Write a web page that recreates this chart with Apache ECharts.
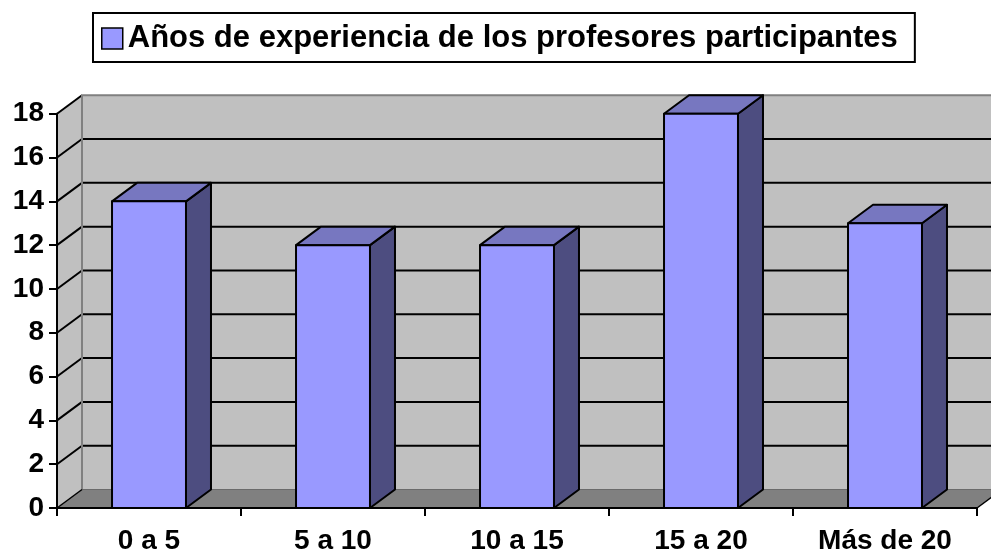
<!DOCTYPE html>
<html>
<head>
<meta charset="utf-8">
<script src="https://cdn.jsdelivr.net/npm/echarts@6/dist/echarts.min.js"></script>
<style>
  html, body { margin: 0; padding: 0; background: #ffffff; }
  #chart { width: 991px; height: 555px; }
</style>
</head>
<body>
<div id="chart"></div>
<script>
// Years of teaching experience of the participating teachers
var categories = ['0 a 5', '5 a 10', '10 a 15', '15 a 20', 'Más de 20'];
var teacherCounts = [14, 12, 12, 18, 13];
var yTicks = [0, 2, 4, 6, 8, 10, 12, 14, 16, 18];
var seriesName = 'Años de experiencia de los profesores participantes';

// depth offset of the 3D box (back plane relative to front plane)
var DX = 25, DY = -18.5;
var FONT = "'Liberation Sans', Arial, sans-serif";

var chart = echarts.init(document.getElementById('chart'), null, { renderer: 'canvas' });

// walls, floor and gridlines behind the bars
function renderWalls(params, api) {
  var cs = params.coordSys;
  var x0 = cs.x, x1 = cs.x + cs.width;
  var yBot = api.coord([0, yTicks[0]])[1];
  var yTop = api.coord([0, yTicks[yTicks.length - 1]])[1];
  var children = [];
  // back wall
  children.push({
    type: 'polygon',
    shape: { points: [[x0 + DX, yTop + DY], [x1 + DX + 40, yTop + DY], [x1 + DX + 40, yBot + DY], [x0 + DX, yBot + DY]] },
    style: { fill: '#C0C0C0' }
  });
  // side wall
  children.push({
    type: 'polygon',
    shape: { points: [[x0, yBot], [x0, yTop], [x0 + DX, yTop + DY], [x0 + DX, yBot + DY]] },
    style: { fill: '#C0C0C0' }
  });
  // floor
  children.push({
    type: 'polygon',
    shape: { points: [[x0, yBot], [x1, yBot], [x1 + DX, yBot + DY], [x0 + DX, yBot + DY]] },
    style: { fill: '#808080' }
  });
  // gridlines on back and side walls
  yTicks.forEach(function (v) {
    var y = api.coord([0, v])[1];
    if (v > yTicks[0] && v < yTicks[yTicks.length - 1]) {
      children.push({
        type: 'line',
        shape: { x1: x0 + DX, y1: y + DY, x2: x1 + DX + 40, y2: y + DY },
        style: { stroke: '#000', lineWidth: 2 }
      });
    }
    if (v > yTicks[0]) {
      children.push({
        type: 'line',
        shape: { x1: x0, y1: y, x2: x0 + DX, y2: y + DY },
        style: { stroke: '#000', lineWidth: 2 }
      });
    }
  });
  // back wall edges
  children.push({
    type: 'polyline',
    shape: { points: [[x0 + DX, yBot + DY], [x0 + DX, yTop + DY], [x1 + DX + 40, yTop + DY]] },
    style: { stroke: '#808080', lineWidth: 2, fill: null }
  });
  children.push({
    type: 'line',
    shape: { x1: x0 + DX, y1: yBot + DY, x2: x1 + DX + 40, y2: yBot + DY },
    style: { stroke: '#6a6a6a', lineWidth: 1 }
  });
  // floor side edges
  children.push({
    type: 'line',
    shape: { x1: x0, y1: yBot, x2: x0 + DX, y2: yBot + DY },
    style: { stroke: '#000', lineWidth: 1.5 }
  });
  children.push({
    type: 'line',
    shape: { x1: x1, y1: yBot, x2: x1 + DX, y2: yBot + DY },
    style: { stroke: '#000', lineWidth: 1.5 }
  });
  return { type: 'group', children: children };
}

// one 3D box per category
function renderBar(params, api) {
  var idx = api.value(0);
  var val = api.value(1);
  var pBase = api.coord([idx, 0]);
  var pTop = api.coord([idx, val]);
  var hw = api.size([1, 0])[0] * 0.402 / 2;
  var xL = pBase[0] - hw, xR = pBase[0] + hw;
  var yT = pTop[1], yB = pBase[1];
  var edge = { stroke: '#000', lineWidth: 2, lineJoin: 'round' };
  return {
    type: 'group',
    children: [
      {
        type: 'polygon',
        shape: { points: [[xR, yT], [xR + DX, yT + DY], [xR + DX, yB + DY], [xR, yB]] },
        style: Object.assign({ fill: '#4D4D80' }, edge)
      },
      {
        type: 'polygon',
        shape: { points: [[xL, yT], [xR, yT], [xR + DX, yT + DY], [xL + DX, yT + DY]] },
        style: Object.assign({ fill: '#7777C0' }, edge)
      },
      {
        type: 'rect',
        shape: { x: xL, y: yT, width: xR - xL, height: yB - yT },
        style: Object.assign({ fill: '#9999FF' }, edge)
      }
    ]
  };
}

var option = {
  backgroundColor: '#ffffff',
  animation: false,
  legend: {
    data: [seriesName],
    left: 93,
    top: 13,
    padding: [8, 17, 6, 8],
    borderColor: '#000',
    borderWidth: 2,
    itemWidth: 21,
    itemHeight: 21,
    icon: 'rect',
    itemStyle: { color: '#9999FF', borderColor: '#000', borderWidth: 1.5 },
    textStyle: { fontSize: 31, fontWeight: 'bold', color: '#000', fontFamily: FONT, lineHeight: 35 }
  },
  grid: { left: 57, right: 14, top: 113.7, bottom: 45, containLabel: false },
  xAxis: {
    type: 'category',
    data: categories,
    boundaryGap: true,
    z: 3,
    axisLine: { show: true, lineStyle: { color: '#000', width: 2 } },
    axisTick: { show: true, length: 8, lineStyle: { color: '#000', width: 2 } },
    axisLabel: { fontSize: 28, fontWeight: 'bold', color: '#000', fontFamily: FONT, margin: 19 },
    splitLine: { show: false }
  },
  yAxis: {
    type: 'value',
    min: 0,
    max: 18,
    interval: 2,
    z: 3,
    axisLine: { show: true, lineStyle: { color: '#000', width: 2 } },
    axisTick: { show: true, length: 8, lineStyle: { color: '#000', width: 2 } },
    axisLabel: { fontSize: 28, fontWeight: 'bold', color: '#000', fontFamily: FONT, margin: 13 },
    splitLine: { show: false }
  },
  series: [
    {
      type: 'custom',
      name: 'walls',
      z: 1,
      silent: true,
      renderItem: renderWalls,
      data: [[0, 0]]
    },
    {
      type: 'custom',
      name: seriesName,
      z: 5,
      itemStyle: { color: '#9999FF' },
      renderItem: renderBar,
      encode: { x: 0, y: 1 },
      data: teacherCounts.map(function (v, i) { return [i, v]; })
    }
  ]
};

chart.setOption(option);
</script>
</body>
</html>
